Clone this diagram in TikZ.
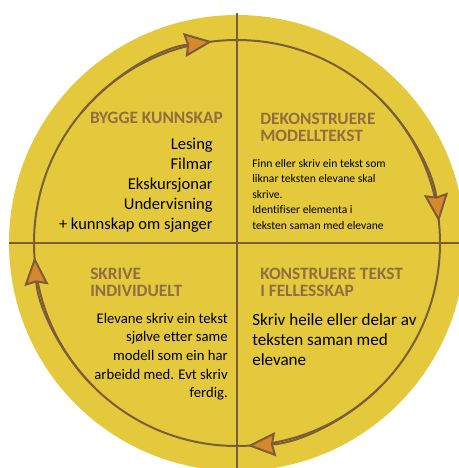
\documentclass[tikz,border=0pt]{standalone}
\usepackage{fontspec}
\setmainfont{Carlito}[Ligatures=NoCommon]
\usetikzlibrary{arrows.meta}
\definecolor{discyellow}{RGB}{228,201,60}
\definecolor{linebrown}{RGB}{125,92,55}
\definecolor{titlebrown}{RGB}{145,110,65}
\definecolor{arrowfill}{RGB}{214,137,44}
\tikzset{
  phasetitle/.style={inner sep=0pt, align=left, text=titlebrown, font=\fontsize{13}{12.75}\selectfont\bfseries},
  cyclearrow/.style={draw=linebrown, line width=1.5pt,
    -{Stealth[length=21pt, width=18pt, inset=2pt, fill=arrowfill]}}
}
\begin{document}
\begin{tikzpicture}[x=0.75pt,y=0.75pt,yscale=-1,xscale=1]
  \useasboundingbox (0,0) rectangle (459,468);
  \clip (0,0) rectangle (459,468);
  %Shape: Circle
  \fill [discyellow] (237,243) circle [radius=228];
  %Straight Lines
  \draw [linebrown, line width=1.9pt] (237,13) -- (237,471);
  \draw [linebrown, line width=1.9pt] (9,243) -- (465,243);
  %Shape: Circle (cycle)
  \draw [linebrown, line width=1.5pt] (237,243) circle [radius=203];
  \draw [cyclearrow] (237,243) ++(-140:203) arc [start angle=-140, end angle=-97, radius=203];
  \draw [cyclearrow] (237,243) ++(-45:203) arc [start angle=-45, end angle=-6, radius=203];
  \draw [cyclearrow] (237,243) ++(45:203) arc [start angle=45, end angle=87, radius=203];
  \draw [cyclearrow] (237,243) ++(135:203) arc [start angle=135, end angle=176, radius=203];

  % Text Node
  \node (bygge) [phasetitle, anchor=north east] at (223,112) {BYGGE KUNNSKAP};
  % Text Node
  \node (kjelder) [anchor=north east, inner sep=0pt, align=right, font=\fontsize{12.4}{15}\selectfont] at (213,138)
    {Lesing\\Filmar\\Ekskursjonar\\Undervisning\\+ kunnskap om sjanger};
  % Text Node
  \node (dekon) [phasetitle, anchor=north west] at (260,113) {DEKONSTRUERE\\MODELLTEKST};
  % Text Node
  \node (finn) [anchor=north west, inner sep=0pt, align=left, font=\fontsize{8.7}{11.6}\selectfont] at (252,159)
    {Finn eller skriv ein tekst som\\liknar teksten elevane skal\\skrive.\\Identifiser elementa i\\teksten saman med elevane};
  % Text Node
  \node (skrive) [phasetitle, anchor=north west] at (90,268) {SKRIVE\\INDIVIDUELT};
  % Text Node
  \node (elevane) [anchor=north east, inner sep=0pt, align=right, font=\fontsize{11}{13.9}\selectfont] at (228,313)
    {Elevane skriv ein tekst\\sjølve etter same\\modell som ein har\\arbeidd med. Evt skriv\\ferdig.};
  % Text Node
  \node (konstr) [phasetitle, anchor=north west] at (260,268) {KONSTRUERE TEKST\\I FELLESSKAP};
  % Text Node
  \node (heile) [anchor=north west, inner sep=0pt, align=left, font=\fontsize{12.8}{15}\selectfont] at (252,313)
    {Skriv heile eller delar av\\teksten saman med\\elevane};
\end{tikzpicture}
\end{document}
